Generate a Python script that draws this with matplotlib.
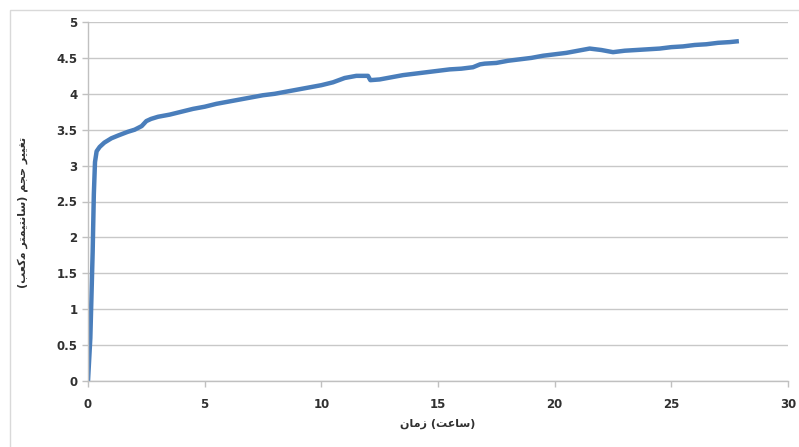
import matplotlib
matplotlib.use("Agg")
import matplotlib.pyplot as plt
from matplotlib.patches import Rectangle

# Data (hours, volume change in cm^3)
time_h = [0, 0.1, 0.2, 0.25, 0.3, 0.37, 0.5, 0.7, 1.0, 1.3, 1.7, 2.0, 2.3, 2.5, 2.7,
          3.0, 3.5, 4.0, 4.5, 5.0, 5.5, 6.0, 6.5, 7.0, 7.5, 8.0, 8.5, 9.0, 9.5, 10.0,
          10.5, 11.0, 11.5, 12.0, 12.1, 12.5, 13.0, 13.5, 14.0, 14.5, 15.0, 15.5, 16.0,
          16.5, 16.8, 17.0, 17.5, 18.0, 18.5, 19.0, 19.5, 20.0, 20.5, 21.0, 21.5, 22.0,
          22.5, 23.0, 23.5, 24.0, 24.5, 25.0, 25.5, 26.0, 26.5, 27.0, 27.5, 27.8]
volume = [0, 0.6, 1.8, 2.6, 3.05, 3.2, 3.26, 3.32, 3.38, 3.42, 3.47, 3.5, 3.55, 3.62, 3.65,
          3.68, 3.71, 3.75, 3.79, 3.82, 3.86, 3.89, 3.92, 3.95, 3.98, 4.0, 4.03, 4.06, 4.09, 4.12,
          4.16, 4.22, 4.25, 4.25, 4.19, 4.2, 4.23, 4.26, 4.28, 4.3, 4.32, 4.34, 4.35,
          4.37, 4.41, 4.42, 4.43, 4.46, 4.48, 4.5, 4.53, 4.55, 4.57, 4.6, 4.63, 4.61,
          4.58, 4.6, 4.61, 4.62, 4.63, 4.65, 4.66, 4.68, 4.69, 4.71, 4.72, 4.73]

x_ticks = [0, 5, 10, 15, 20, 25, 30]
y_ticks = [0, 0.5, 1, 1.5, 2, 2.5, 3, 3.5, 4, 4.5, 5]

# Pre-shaped Persian labels (visual order, presentation forms)
x_label = "\uFEE5\uFE8E\uFEE3\uFEAF (\uFE96\uFECB\uFE8E\uFEB3)"
y_label = ("(\uFE90\uFECC\uFB90\uFEE3 \uFEAE\uFE98\uFEE4\uFBFF\uFE98\uFEE7\uFE8E\uFEB3) "
           "\uFEE2\uFEA0\uFEA3 \uFEAE\uFBFF\uFBFF\uFED0\uFE97")

fig = plt.figure(figsize=(7.99, 4.47), dpi=100)
fig.patch.set_facecolor("white")
fig.patches.append(Rectangle((10 / 799, -0.05), 1.1, 1 - 10 / 447 + 0.05,
                             transform=fig.transFigure, fill=False,
                             edgecolor="#d9d9d9", linewidth=1.0))

ax = fig.add_axes([88 / 799, 1 - 381 / 447, (788 - 88) / 799, (381 - 22) / 447])
ax.plot(time_h, volume, color="#4a7ebb", linewidth=3.2, solid_joinstyle="round")

ax.set_xlim(0, 30)
ax.set_ylim(0, 5)
ax.set_xticks(x_ticks)
ax.set_yticks(y_ticks)
ax.set_xticklabels([str(v) for v in x_ticks])
ax.set_yticklabels([("%g" % v) for v in y_ticks])
ax.grid(axis="y", color="#c8c8c8", linewidth=1.0)
ax.set_axisbelow(True)
for s in ["top", "right"]:
    ax.spines[s].set_visible(False)
for s in ["left", "bottom"]:
    ax.spines[s].set_color("#c0c0c0")
    ax.spines[s].set_linewidth(1.0)
ax.tick_params(axis="both", colors="#c0c0c0", length=4, width=1, labelcolor="#303030",
               labelsize=8.5)
ax.tick_params(axis="x", pad=8)
for lab in ax.get_xticklabels() + ax.get_yticklabels():
    lab.set_fontweight("bold")

ax.set_xlabel(x_label, fontsize=8, fontweight="bold", color="#303030",
              family=["DejaVu Sans"], labelpad=6)
ax.set_ylabel(y_label, fontsize=8, fontweight="bold", color="#303030",
              family=["DejaVu Sans"], labelpad=22)
ax.yaxis.set_label_coords(-0.085, 0.47)

fig.savefig("out.png", dpi=100, facecolor="white")
